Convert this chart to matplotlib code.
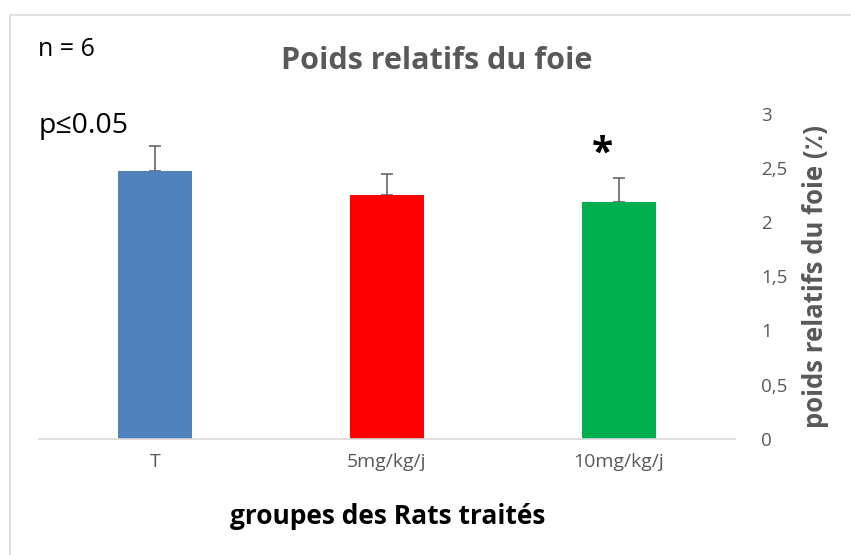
import numpy as np
import matplotlib
matplotlib.use("Agg")
import matplotlib.pyplot as plt
from matplotlib.patches import Rectangle
from matplotlib.ticker import FuncFormatter

plt.rcParams["font.family"] = ["Open Sans", "DejaVu Sans"]

# données
groupes = ["T", "5mg/kg/j", "10mg/kg/j"]
moyennes = [2.47, 2.25, 2.185]
erreurs = [0.23, 0.20, 0.225]
couleurs = ["#4F81BD", "#FF0000", "#00B050"]
yticks = [0, 0.5, 1, 1.5, 2, 2.5, 3]

GRIS = "#595959"

fig = plt.figure(figsize=(8.51, 5.55), dpi=100)
# cadre de la zone de graphique (style Excel)
fig.patches.append(Rectangle((10 / 851, -0.1), 1.2, 1 - 15 / 555 + 0.1,
                             transform=fig.transFigure, fill=False,
                             edgecolor="#D9D9D9", linewidth=1.2))

ax = fig.add_axes([39 / 851, (555 - 438.7) / 555, 696 / 851, 324.7 / 555])
x = np.arange(len(groupes))
ax.bar(x, moyennes, width=0.315, color=couleurs, zorder=2)
ax.errorbar(x, moyennes, yerr=[np.zeros(3), erreurs], fmt="none",
            ecolor="#5A5A5A", elinewidth=1.1, capsize=4.5, capthick=1.1, zorder=1)

ax.set_xlim(-0.5, 2.5)
ax.set_ylim(0, 3)
ax.set_xticks(x)
ax.set_xticklabels(groupes, color=GRIS, fontsize=14)
ax.yaxis.tick_right()
ax.set_yticks(yticks)
ax.yaxis.set_major_formatter(FuncFormatter(lambda v, p: f"{v:g}".replace(".", ",")))
ax.tick_params(axis="y", length=0, labelsize=13.5, labelcolor=GRIS, pad=19)
ax.tick_params(axis="x", length=0, pad=10)
for s in ["top", "left", "right"]:
    ax.spines[s].set_visible(False)
ax.spines["bottom"].set_color("#D9D9D9")
ax.spines["bottom"].set_linewidth(1.2)

ax.yaxis.set_label_position("right")
ax.set_ylabel("poids relatifs du foie (٪)", fontsize=18.5, fontweight="bold",
              color=GRIS, labelpad=10)

fig.text(437 / 851, 1 - 61 / 555, "Poids relatifs du foie", ha="center", va="center",
         fontsize=22, fontweight="bold", color=GRIS)
fig.text(388 / 851, 1 - 516 / 555, "groupes des Rats traités", ha="center", va="center",
         fontsize=19, fontweight="bold", color="black")
fig.text(38 / 851, 1 - 49 / 555, "n = 6", ha="left", va="center", fontsize=18, color="black")
fig.text(39 / 851, 1 - 126 / 555, "p≤0.05", ha="left", va="center", fontsize=20.5, color="black")
ax.text(1.93, 2.63, "*", ha="center", va="center", fontsize=28, fontweight="bold")

fig.savefig("out.png", dpi=100)
